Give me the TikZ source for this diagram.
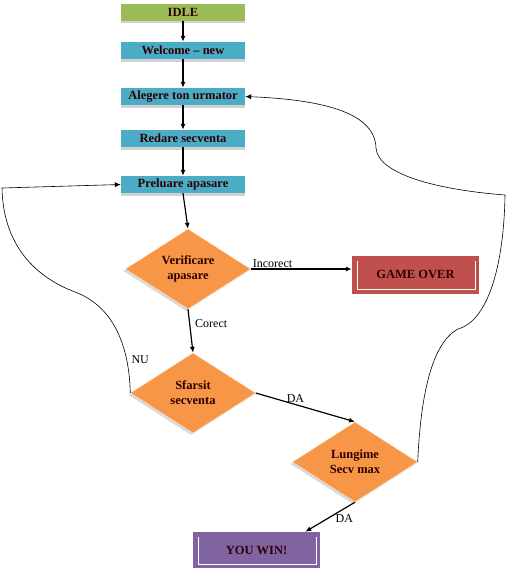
\documentclass[tikz,border=0pt]{standalone}
\usepackage{fontspec}
\setmainfont{Liberation Serif}
\usepackage{tikz}
\usetikzlibrary{positioning, arrows.meta, shapes.geometric, shadows}
\definecolor{idleGreen}{RGB}{155,187,89}
\definecolor{stateBlue}{RGB}{75,172,198}
\definecolor{checkOrange}{RGB}{247,150,70}
\definecolor{loseRed}{RGB}{192,80,77}
\definecolor{winPurple}{RGB}{128,100,162}
\definecolor{darkText}{RGB}{45,0,0}
\tikzset{
    stateBox/.style={rectangle, fill=stateBlue, minimum width=124pt, minimum height=17pt, inner sep=0pt, font=\fontsize{12.5}{15}\selectfont\bfseries, text=darkText, drop shadow={shadow xshift=0pt, shadow yshift=-2.5pt, fill=gray!60, opacity=0.6}},
    decision/.style={diamond, draw=orange!25, fill=checkOrange, aspect=1.5, minimum width=125pt, minimum height=80pt, inner sep=0pt, align=center, font=\fontsize{12.5}{15}\selectfont\bfseries, text=darkText, drop shadow={shadow xshift=-2pt, shadow yshift=-2pt, fill=gray!50, opacity=0.6}},
    endBox/.style={rectangle, minimum width=127pt, minimum height=38pt, inner sep=0pt, font=\fontsize{12.5}{15}\selectfont\bfseries, text=darkText, path picture={\draw[white, line width=0.8pt] ([xshift=5pt,yshift=-5pt]path picture bounding box.north west) -- ([xshift=5pt,yshift=4pt]path picture bounding box.south west) -- ([xshift=-4pt,yshift=4pt]path picture bounding box.south east) -- ([xshift=-4pt,yshift=-5pt]path picture bounding box.north east);}},
    arrow/.style={-{Latex[length=6pt,width=5pt]}, line width=1.2pt},
    loopLine/.style={-{Latex[length=6pt,width=5pt]}, line width=0.6pt},
    edgeLabel/.style={font=\fontsize{12}{14}\selectfont, inner sep=1pt}
}
\begin{document}
\begin{tikzpicture}[x=1pt, y=-1pt]
    \useasboundingbox (0,0) rectangle (516,579);

    % States
    \node[stateBox, fill=idleGreen] (Idle) at (183,12) {IDLE};
    \node[stateBox] (Welcome) at (183,50.5) {Welcome -- new};
    \node[stateBox] (Alegere) at (183,96.5) {Alegere ton urmator};
    \node[stateBox] (Redare) at (183,138.5) {Redare secventa};
    \node[stateBox] (Preluare) at (183,184.5) {Preluare apasare};

    % Decisions
    \node[decision] (Verif) at (188,269) {Verificare\\apasare};
    \node[decision] (Sfarsit) at (193,393) {Sfarsit\\secventa};
    \node[decision] (Lungime) at (355,462) {Lungime\\Secv max};

    % End states
    \node[endBox, fill=loseRed] (Over) at (415.5,274.5) {GAME OVER};
    \node[endBox, fill=winPurple, minimum height=36pt] (Win) at (256.5,550) {YOU WIN!};

    % Loop corners
    \coordinate (leftTop) at (2,188);
    \coordinate (rightTop) at (505,195);

    % Arrows
    \draw[arrow] (Idle.south) -- (Welcome.north);
    \draw[arrow] (Welcome.south) -- (Alegere.north);
    \draw[arrow] (Alegere.south) -- (Redare.north);
    \draw[arrow] (Redare.south) -- (Preluare.north);
    \draw[arrow] (Preluare.south) -- (Verif.north);
    \draw[arrow] (Verif.east) -- (Verif.east -| Over.west);
    \draw[arrow] (Verif.south) -- (Sfarsit.north);
    \draw[arrow] (Sfarsit.east) -- (Lungime.north)
        node[edgeLabel, pos=0.4, above] {DA};
    \draw[arrow] (Lungime.south) -- ([xshift=-15pt]Win.north east)
        node[edgeLabel, pos=0.4, anchor=north west, inner sep=0pt] {DA};

    % Loops back
    \draw[loopLine] (Sfarsit.west) .. controls (129,340) and (110,305) .. (75,292)
        .. controls (30,275) and (3,240) .. (leftTop) -- (Preluare.west);
    \draw[loopLine] (Lungime.east) .. controls (420,410) and (428,345) .. (458,329)
        .. controls (490,320) and (504,260) .. (rightTop)
        .. controls (440,190) and (378,175) .. (376,148)
        .. controls (375,115) and (330,100) .. (Alegere.east);

    % Labels
    \node[edgeLabel, above right=0pt and 1pt of Verif.east] {Incorect};
    \node[edgeLabel, below right=9pt and 6pt of Verif.south] {Corect};
    \node[edgeLabel, above right=28pt and 0pt of Sfarsit.west] {NU};
\end{tikzpicture}
\end{document}
